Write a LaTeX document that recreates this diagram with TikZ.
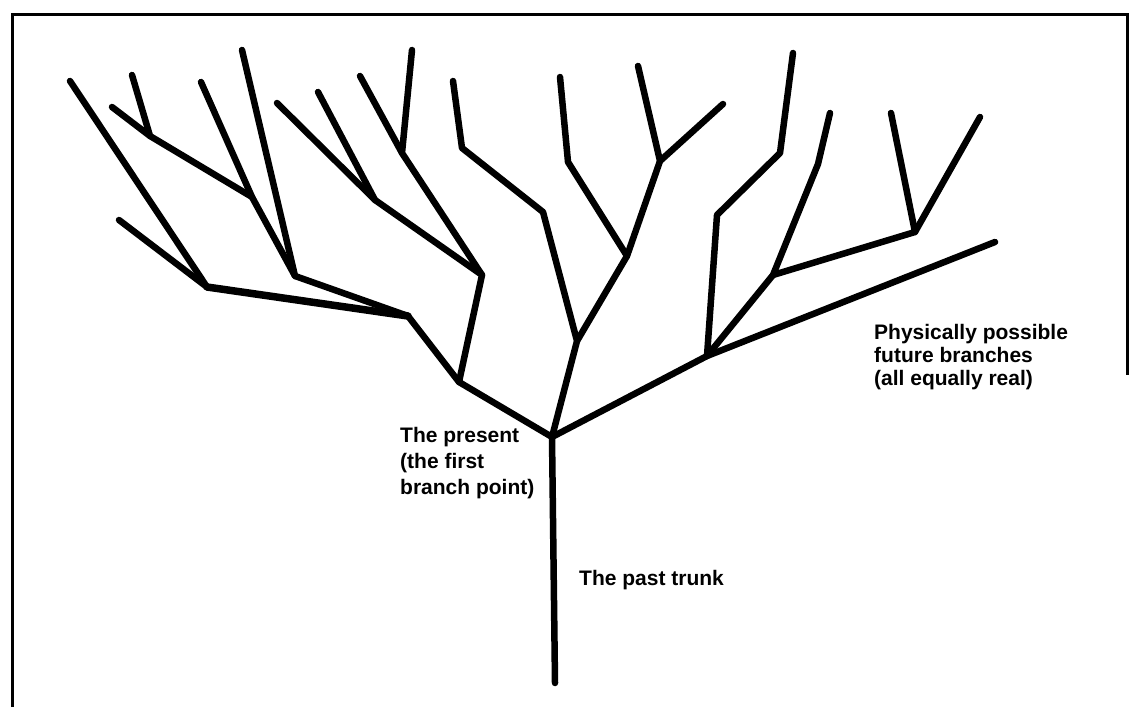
\documentclass[tikz,border=0pt]{standalone}
\usepackage{fontspec}
\setmainfont{Liberation Sans}
\begin{document}
\begin{tikzpicture}[x=1pt,y=-1pt,
  branch/.style={line width=6.5pt,line cap=round,line join=round},
  frame/.style={line width=3pt,line join=miter},
  lab/.style={font=\bfseries\fontsize{21}{23}\selectfont,align=left,inner sep=0pt,anchor=north west}]
\useasboundingbox (0,0) rectangle (1134,707);
% frame
\coordinate (f1) at (12,707);
\coordinate (f2) at (12,14);
\coordinate (f3) at (1127,14);
\coordinate (f4) at (1127,375);
\draw[frame] (f1) -- (f2) -- (f3) -- (f4);
% tree points
\coordinate (trunkbot) at (555,683);
\coordinate (P) at (552,437);
\coordinate (A) at (459,382);
\coordinate (B) at (577,341);
\coordinate (C) at (707,356);
\coordinate (Cend) at (995,242);
\coordinate (D) at (482,275);
\coordinate (E) at (408,316);
\coordinate (F) at (402,153);
\coordinate (F1) at (412,50);
\coordinate (F2) at (360,76);
\coordinate (G) at (375,200);
\coordinate (G1) at (277,103);
\coordinate (G2) at (318,92);
\coordinate (H) at (295,276);
\coordinate (H1) at (242,50);
\coordinate (J) at (252,197);
\coordinate (J1) at (201,82);
\coordinate (K) at (150,136);
\coordinate (K1) at (132,75);
\coordinate (K2) at (112,107);
\coordinate (I) at (207,287);
\coordinate (I1) at (70,81);
\coordinate (I2) at (119,220);
\coordinate (L) at (543,212);
\coordinate (N) at (462,148);
\coordinate (N1) at (453,81);
\coordinate (M) at (627,256);
\coordinate (O) at (568,162);
\coordinate (O1) at (560,77);
\coordinate (Q) at (660,161);
\coordinate (Q1) at (638,66);
\coordinate (Q2) at (723,104);
\coordinate (R) at (717,215);
\coordinate (S) at (780,153);
\coordinate (S1) at (793,53);
\coordinate (T) at (773,275);
\coordinate (U) at (818,164);
\coordinate (U1) at (830,113);
\coordinate (V) at (915,232);
\coordinate (V1) at (891,113);
\coordinate (V2) at (980,117);
% branches
\draw[branch] (trunkbot) -- (P);
\draw[branch] (P) -- (A) -- (D) -- (G) -- (G1);
\draw[branch] (G) -- (G2);
\draw[branch] (D) -- (F) -- (F1);
\draw[branch] (F) -- (F2);
\draw[branch] (A) -- (E) -- (H) -- (H1);
\draw[branch] (H) -- (J) -- (J1);
\draw[branch] (J) -- (K) -- (K1);
\draw[branch] (K) -- (K2);
\draw[branch,line width=7.5pt] (E) -- (I);
\draw[branch] (I) -- (I1);
\draw[branch] (I) -- (I2);
\draw[branch] (P) -- (B) -- (L) -- (N) -- (N1);
\draw[branch] (B) -- (M) -- (O) -- (O1);
\draw[branch] (M) -- (Q) -- (Q1);
\draw[branch] (Q) -- (Q2);
\draw[branch] (P) -- (C) -- (Cend);
\draw[branch] (C) -- (R) -- (S) -- (S1);
\draw[branch] (C) -- (T) -- (U) -- (U1);
\draw[branch] (T) -- (V) -- (V1);
\draw[branch] (V) -- (V2);
% labels
\node[lab,font=\bfseries\fontsize{21}{26}\selectfont] (present) at (400,427) {The present\\(the first\\branch point)};
\node[lab] (past) at (579,570) {The past trunk};
\node[lab] (future) at (874,324) {Physically possible\\future branches\\(all equally real)};
\end{tikzpicture}
\end{document}
